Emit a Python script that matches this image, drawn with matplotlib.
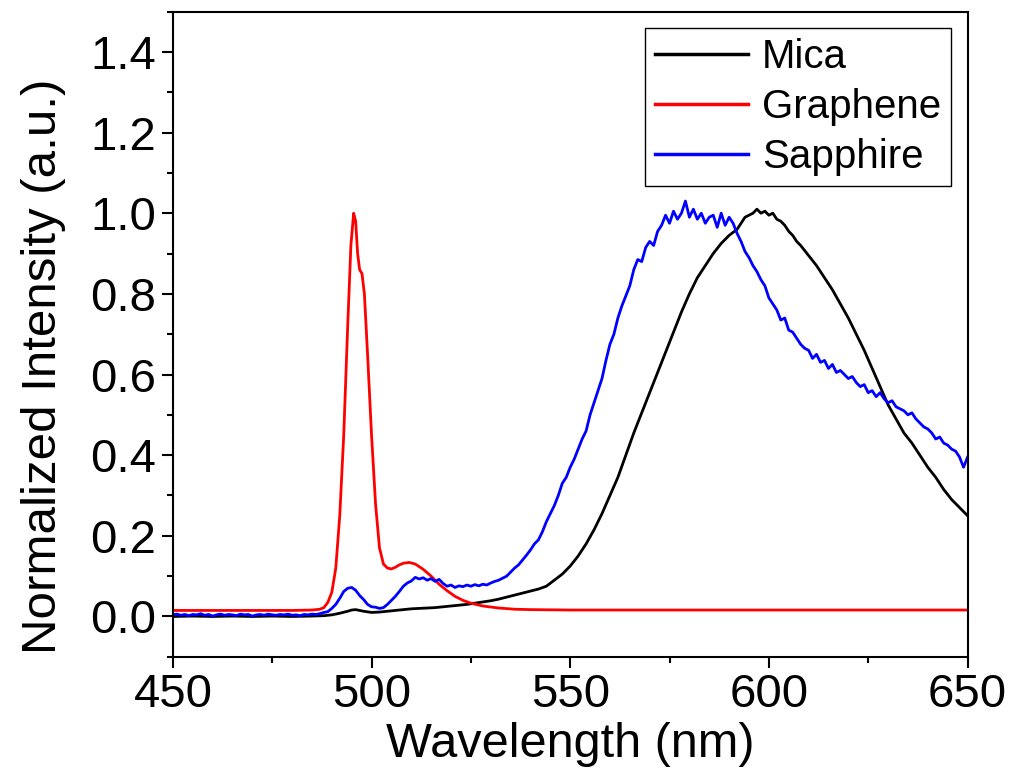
import matplotlib
matplotlib.use("Agg")
import matplotlib.pyplot as plt
from matplotlib.ticker import MultipleLocator

plt.rcParams['font.family'] = ['Liberation Sans', 'DejaVu Sans']

# Graphene (red)
gr_x = [450, 480, 485, 487, 488, 489, 490, 491, 492, 493, 494, 494.8, 495.5, 496, 496.5,
        497, 497.6, 498.2, 499, 500, 501, 502, 503, 504, 505, 506, 507, 508, 509.5, 511,
        513, 515, 517, 519, 521, 523, 525, 528, 532, 536, 540, 550, 650]
gr_y = [0.015, 0.015, 0.016, 0.018, 0.022, 0.035, 0.06, 0.12, 0.25, 0.45, 0.72, 0.92, 1.0, 0.98, 0.9,
        0.86, 0.85, 0.80, 0.65, 0.45, 0.28, 0.17, 0.13, 0.12, 0.118, 0.122, 0.128, 0.132, 0.134, 0.13,
        0.117, 0.10, 0.08, 0.064, 0.05, 0.04, 0.033, 0.026, 0.021, 0.018, 0.017, 0.016, 0.016]

# Sapphire (blue), 1 nm steps from 450 to 650
sa_x = list(range(450, 651))
sa_y = [0.004, 0.006, 0.003, 0.005, 0.002, 0.005, 0.004, 0.007, 0.003, 0.005,
        0.001, 0.004, 0.006, 0.003, 0.005, 0.004, 0.002, 0.006, 0.004, 0.005,
        0.001, 0.004, 0.005, 0.003, 0.006, 0.004, 0.003, 0.005, 0.004, 0.006,
        0.003, 0.004, 0.002, 0.005, 0.004, 0.006, 0.005, 0.007, 0.010, 0.012,
        0.020, 0.030, 0.045, 0.062, 0.070, 0.072, 0.065, 0.052, 0.042, 0.030,
        0.024, 0.023, 0.020, 0.022, 0.030, 0.040, 0.050, 0.062, 0.075, 0.083,
        0.088, 0.097, 0.093, 0.096, 0.090, 0.094, 0.087, 0.092, 0.082, 0.075,
        0.078, 0.072, 0.076, 0.074, 0.078, 0.075, 0.079, 0.076, 0.080, 0.078,
        0.083, 0.087, 0.090, 0.095, 0.100, 0.110, 0.120, 0.128, 0.140, 0.152,
        0.165, 0.180, 0.190, 0.210, 0.235, 0.255, 0.275, 0.300, 0.330, 0.345,
        0.370, 0.390, 0.415, 0.440, 0.460, 0.500, 0.530, 0.560, 0.590, 0.635,
        0.675, 0.700, 0.740, 0.770, 0.795, 0.820, 0.860, 0.885, 0.880, 0.915,
        0.930, 0.920, 0.955, 0.970, 0.995, 0.975, 1.005, 0.985, 1.000, 1.030,
        0.990, 1.010, 0.985, 1.000, 0.975, 0.990, 0.995, 0.965, 1.000, 0.970,
        0.990, 0.975, 0.950, 0.930, 0.905, 0.890, 0.870, 0.855, 0.835, 0.820,
        0.790, 0.775, 0.760, 0.735, 0.740, 0.710, 0.705, 0.690, 0.675, 0.665,
        0.660, 0.640, 0.650, 0.630, 0.635, 0.615, 0.625, 0.605, 0.610, 0.600,
        0.590, 0.595, 0.580, 0.570, 0.575, 0.555, 0.560, 0.545, 0.555, 0.540,
        0.530, 0.535, 0.520, 0.515, 0.510, 0.500, 0.505, 0.490, 0.480, 0.470,
        0.465, 0.455, 0.440, 0.445, 0.430, 0.425, 0.415, 0.410, 0.395, 0.370,
        0.395]

# Mica (black)
mi_x = [450, 455, 460, 465, 470, 475, 480, 485, 488, 490, 492, 494, 495, 496, 497, 498,
        500, 502, 504, 506, 508, 510, 512, 514, 516, 518, 520, 522, 524, 526, 528, 530,
        532, 534, 536, 538, 540, 542, 544, 546, 548, 550, 552, 554, 556, 558, 560, 562,
        564, 566, 568, 570, 572, 574, 576, 578, 580, 582, 584, 586, 588, 590, 592, 594,
        596, 597, 598, 599, 600, 601, 602, 603, 604, 605, 606, 607, 608, 610, 612, 614,
        616, 618, 620, 622, 624, 626, 628, 630, 632, 634, 636, 638, 640, 642, 644, 646,
        648, 650]
mi_y = [0.0, 0.001, 0.0, 0.001, 0.0, 0.001, 0.0, 0.001, 0.002, 0.004, 0.008, 0.013, 0.016, 0.017, 0.015, 0.013,
        0.010, 0.011, 0.013, 0.015, 0.017, 0.019, 0.020, 0.021, 0.022, 0.024, 0.026, 0.028, 0.030, 0.033, 0.036, 0.039,
        0.043, 0.048, 0.053, 0.058, 0.063, 0.068, 0.075, 0.090, 0.105, 0.125, 0.150, 0.180, 0.215, 0.255, 0.300, 0.345,
        0.400, 0.455, 0.505, 0.555, 0.605, 0.655, 0.705, 0.755, 0.800, 0.840, 0.870, 0.900, 0.925, 0.945, 0.960, 0.990,
        1.000, 1.010, 1.000, 1.005, 0.995, 1.000, 0.985, 0.980, 0.970, 0.955, 0.945, 0.930, 0.920, 0.895, 0.870, 0.840,
        0.810, 0.775, 0.740, 0.700, 0.660, 0.615, 0.570, 0.525, 0.490, 0.455, 0.430, 0.400, 0.370, 0.345, 0.315, 0.290,
        0.270, 0.250]

fig = plt.figure(figsize=(10.11, 7.70), dpi=100)
ax = fig.add_axes([0.171, 0.147, 0.786, 0.838])

ax.plot(mi_x, mi_y, color='black', lw=2.0, label='Mica')
ax.plot(gr_x, gr_y, color='red', lw=2.0, label='Graphene')
ax.plot(sa_x, sa_y, color='blue', lw=2.0, label='Sapphire')

ax.set_xlim(450, 650)
ax.set_ylim(-0.1, 1.5)
ax.xaxis.set_major_locator(MultipleLocator(50))
ax.xaxis.set_minor_locator(MultipleLocator(25))
ax.yaxis.set_minor_locator(MultipleLocator(0.1))
ax.set_yticks([0.0, 0.2, 0.4, 0.6, 0.8, 1.0, 1.2, 1.4])
ax.set_yticklabels(['0.0', '0.2', '0.4', '0.6', '0.8', '1.0', '1.2', '1.4'])

for s in ax.spines.values():
    s.set_linewidth(1.5)
ax.tick_params(which='major', direction='out', length=8, width=1.5, labelsize=34, pad=4)
ax.tick_params(which='minor', direction='out', length=4.5, width=1.5)

ax.set_xlabel('Wavelength (nm)', fontsize=35, labelpad=3)
ax.set_ylabel('Normalized Intensity (a.u.)', fontsize=35.5)
ax.yaxis.set_label_coords(-0.135, 0.45)

leg = ax.legend(loc='upper right', fontsize=29, frameon=True, fancybox=False,
                edgecolor='black', framealpha=1, labelspacing=0.3, handlelength=2.3,
                handletextpad=0.35, borderpad=0.25, borderaxespad=0.4)
leg.get_frame().set_linewidth(1.0)
for line in leg.get_lines():
    line.set_linewidth(2.5)

fig.savefig('out.png', dpi=100)
